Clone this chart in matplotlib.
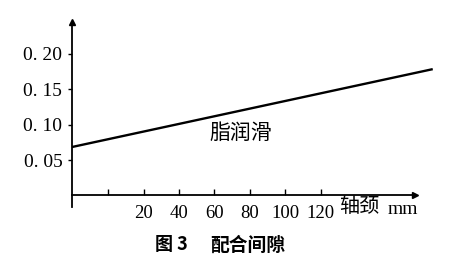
import numpy as np
import matplotlib
matplotlib.use("Agg")
import matplotlib.pyplot as plt

# data
journal_mm = [-20.3, 183]          # line start / end along journal diameter
clearance = [0.0683, 0.178]        # fit clearance (grease lubrication)
x_ticks = [0, 20, 40, 60, 80, 100, 120]
x_labels = ['', '20', '40', '60', '80', '100', '120']
y_ticks = [0.05, 0.10, 0.15, 0.20]
y_labels = ['0. 05', '0. 10', '0. 15', '0. 20']

plt.rcParams['font.family'] = ['Liberation Serif', 'Noto Sans CJK SC']
cjk = ['Noto Sans CJK SC', 'DejaVu Sans']

W, H = 468, 263
fig = plt.figure(figsize=(W / 100, H / 100), dpi=100)
ax = fig.add_axes([72 / W, (H - 207) / H, 343 / W, 185 / H])

ax.set_xlim(-20.3, 173)
ax.set_ylim(-0.0162, 0.2444)

# the clearance line
ax.plot(journal_mm, clearance, color='black', lw=1.7, clip_on=False,
        solid_capstyle='butt')

# axes: left spine at origin, bottom spine at y=0
for s in ['top', 'right']:
    ax.spines[s].set_visible(False)
ax.spines['left'].set_linewidth(1.3)
ax.spines['bottom'].set_linewidth(1.3)
ax.spines['bottom'].set_position(('data', 0))

# arrow heads
ax.plot(1, 0, '>', color='black', ms=5, transform=ax.get_yaxis_transform(), clip_on=False)
ax.plot(-20.3, 1, '^', color='black', ms=4, transform=ax.get_xaxis_transform(), clip_on=False)

ax.set_xticks(x_ticks)
ax.set_xticklabels(x_labels)
ax.set_yticks(y_ticks)
ax.set_yticklabels(y_labels)
ax.tick_params(axis='x', direction='in', length=4.5, width=1, pad=7, labelsize=13.5)
ax.tick_params(axis='y', direction='out', length=3, width=1, pad=4, labelsize=14)

ax.text(75, 0.0887, '脂润滑', family=cjk, fontsize=15, ha='center', va='center')

fig.text(339 / W, 1 - 207 / H, '轴颈', family=cjk, fontsize=14.5, ha='left', va='center')
fig.text(388 / W, 1 - 209 / H, 'mm', fontsize=14, ha='left', va='center')

fig.text(155 / W, 1 - 245 / H, '图 3', family=cjk, fontsize=13, fontweight='bold',
         ha='left', va='center')
fig.text(210 / W, 1 - 245 / H, '配合间隙', family=cjk, fontsize=13.5, fontweight='bold',
         ha='left', va='center')

fig.savefig('out.png', dpi=100)
